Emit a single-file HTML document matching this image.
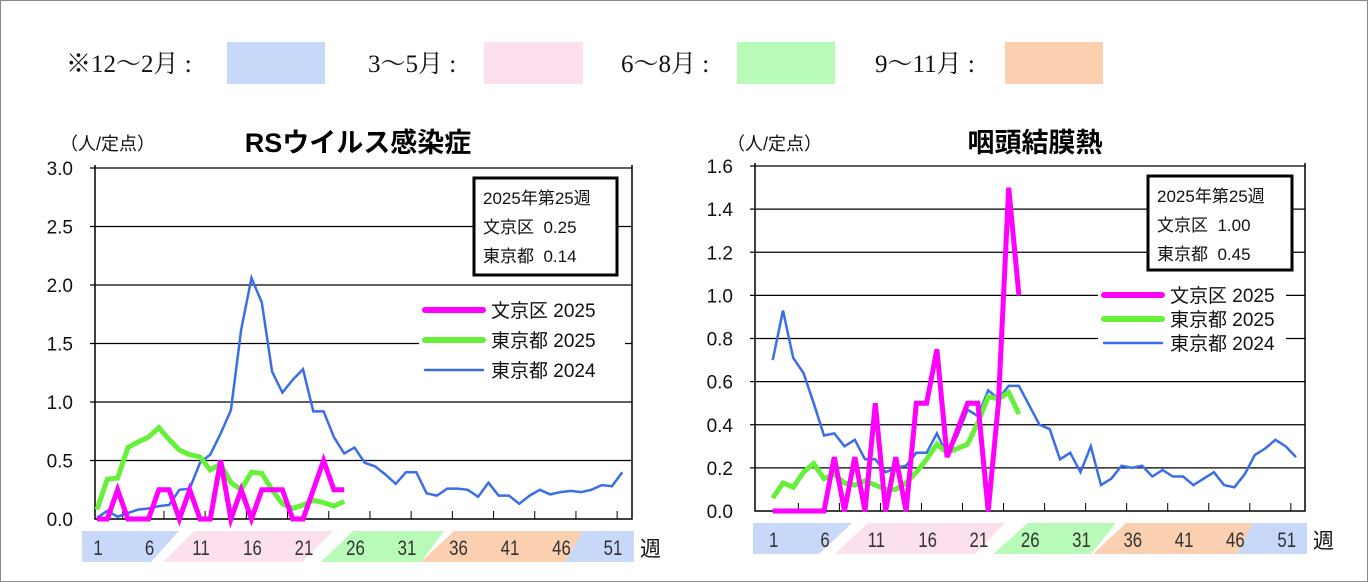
<!DOCTYPE html>
<html><head><meta charset="utf-8"><style>
html,body{margin:0;padding:0;background:#fff}
svg{display:block;font-family:"Liberation Sans","Noto Sans CJK JP",sans-serif}
</style></head><body>
<svg id="svg" width="1368" height="582" xmlns="http://www.w3.org/2000/svg">
<rect x="0.5" y="0.5" width="1367" height="581" fill="#fff" stroke="#888"/>
<g font-family="Liberation Serif,Noto Serif CJK SC,serif" font-size="25" fill="#111">
<text x="66" y="72">※12～2月 :</text>
<rect x="227" y="42" width="98" height="42" fill="#c8d8f8"/>
<text x="368" y="72">3～5月 :</text>
<rect x="484" y="42" width="99" height="42" fill="#fde0ee"/>
<text x="621" y="72">6～8月 :</text>
<rect x="737" y="42" width="98" height="42" fill="#b8fbb8"/>
<text x="875" y="72">9～11月 :</text>
<rect x="1005" y="42" width="98" height="42" fill="#fbd0b0"/>
</g>
<g id="left"></g>
<g id="right"></g>
</svg>
<script>
const weekLabels=[1,6,11,16,21,26,31,36,41,46,51];
const rsvYTicks=[0,0.5,1.0,1.5,2.0,2.5,3.0];
const rsvBunkyo2025=[0,0,0.25,0,0,0,0.25,0.25,0,0.25,0,0,0.5,0,0.25,0,0.25,0.25,0.25,0,0,0.25,0.5,0.25,0.25];
const rsvTokyo2025=[0.08,0.34,0.35,0.61,0.66,0.70,0.78,0.68,0.59,0.55,0.53,0.42,0.47,0.31,0.25,0.40,0.39,0.25,0.13,0.09,0.12,0.16,0.14,0.11,0.15];
const rsvTokyo2024=[0.01,0.07,0.02,0.05,0.08,0.09,0.11,0.12,0.25,0.26,0.48,0.55,0.73,0.93,1.62,2.06,1.85,1.26,1.08,1.19,1.28,0.92,0.92,0.70,0.56,0.61,0.48,0.45,0.38,0.30,0.40,0.40,0.22,0.20,0.26,0.26,0.25,0.19,0.31,0.20,0.20,0.13,0.20,0.25,0.21,0.23,0.24,0.23,0.25,0.29,0.28,0.40];
const pcfYTicks=[0,0.2,0.4,0.6,0.8,1.0,1.2,1.4,1.6];
const pcfBunkyo2025=[0,0,0,0,0,0,0.25,0,0.25,0,0.5,0,0.25,0,0.5,0.5,0.75,0.25,0.375,0.5,0.5,0,0.5,1.5,1.0];
const pcfTokyo2025=[0.06,0.13,0.11,0.18,0.22,0.15,0.17,0.13,0.12,0.14,0.12,0.10,0.10,0.13,0.18,0.24,0.31,0.27,0.29,0.31,0.41,0.53,0.52,0.55,0.45];
const pcfTokyo2024=[0.70,0.93,0.71,0.64,0.50,0.35,0.36,0.30,0.33,0.24,0.24,0.18,0.20,0.21,0.27,0.27,0.36,0.26,0.35,0.47,0.44,0.56,0.52,0.58,0.58,0.49,0.40,0.38,0.24,0.27,0.18,0.30,0.12,0.15,0.21,0.20,0.21,0.16,0.19,0.16,0.16,0.12,0.15,0.18,0.12,0.11,0.17,0.26,0.29,0.33,0.30,0.25];
const NS="http://www.w3.org/2000/svg";
function mk(p,t,a,txt){const e=document.createElementNS(NS,t);for(const k in a)e.setAttribute(k,a[k]);if(txt!==undefined)e.textContent=txt;p.appendChild(e);return e;}
function chart(g,c){
 const X=w=>c.x1+(w-1)*c.dx, Y=v=>c.y0-(v/c.ymax)*(c.y0-c.ytop);
 const t1=mk(g,'text',{x:c.unitX,y:150,'font-size':18,fill:'#111'},'（人/定点）');
 
 
 const t2=mk(g,'text',{x:c.titleX,y:152,'font-size':27,'font-weight':'bold','text-anchor':'middle',fill:'#000'},c.title);
 
 
 c.yticks.forEach(v=>{
  if(v>0){const l=mk(g,'line',{x1:c.left-5,x2:c.right,y1:Y(v),y2:Y(v),stroke:'#000','stroke-width':1.2});
  
  }
  const t=mk(g,'text',{x:c.left-22,y:Y(v)+7,'font-size':19,'text-anchor':'end',fill:'#111'},v.toFixed(1));
  
  
 });
 const ax=mk(g,'path',{d:`M${c.left},${c.ytop-3}V${c.y0}H${c.right}V${c.ytop-3}`,fill:'none',stroke:'#000','stroke-width':1.5});
 
 
 for(let w=1;w<=52;w+=4){const tk=mk(g,'line',{x1:X(w)+c.dx*2.5,x2:X(w)+c.dx*2.5,y1:c.y0,y2:c.y0-8,stroke:'#000'});
  
  }
 const by=c.y0+12,bh=31;
 c.bands.forEach(b=>{const p=mk(g,'polygon',{points:`${b[0]},${by} ${b[1]},${by} ${b[3]},${by+bh} ${b[2]},${by+bh}`,fill:b[4]});
  
  });
 weekLabels.forEach(w=>{const t=mk(g,'text',{x:X(w)+1,y:by+24,'font-size':21,'text-anchor':'middle',fill:'#333',transform:`translate(${X(w)+1},0) scale(0.8,1) translate(${-(X(w)+1)},0)`},String(w));
  
  });
 const wk=mk(g,'text',{x:c.right+8,y:by+25,'font-size':21,fill:'#111'},'週');
 
 
 const series=[[c.s2024,'#3a6ee8',2.5,'line-tokyo-2024'],[c.s25t,'#66f03a',5,'line-tokyo-2025'],[c.s25b,'#ff00ff',5,'line-bunkyo-2025']];
 series.forEach(s=>{const d=s[0].map((v,i)=>(i?'L':'M')+X(i+1).toFixed(1)+','+Y(v).toFixed(1)).join('');
  const p=mk(g,'path',{d,fill:'none',stroke:s[1],'stroke-width':s[2],'stroke-linejoin':'miter'});
  
  });
 const ib=c.info;
 const r=mk(g,'rect',{x:ib[0],y:ib[1],width:ib[2],height:ib[3],fill:'#fff',stroke:'#000','stroke-width':3});
 
 
 c.infoText.forEach((s,i)=>{const t=mk(g,'text',{x:ib[0]+9,y:ib[1]+26+i*29,'font-size':17,fill:'#111','xml:space':'preserve',style:'white-space:pre'},s);
  
  });
 const lg=c.legend;
 [['文京区 2025','#ff00ff',6],['東京都 2025','#66f03a',6],['東京都 2024','#3a6ee8',2.5]].forEach((e,i)=>{
  const y=lg[1]+i*lg[2];
  const bg=mk(g,'rect',{x:lg[0]-6,y:y-13,width:lg[3],height:26,fill:'#fff'});
  
  
  const l=mk(g,'line',{x1:lg[0],x2:lg[0]+58,y1:y,y2:y,stroke:e[1],'stroke-width':e[2],'stroke-linecap':'round'});
  
  
  const t=mk(g,'text',{x:lg[0]+66,y:y+7,'font-size':19,fill:'#111'},e[0]);
  
  
 });
}
const B='#c8d8f8',P='#fde0ee',G='#b8fbb8',O='#fbd0b0';
chart(document.getElementById('left'),{x1:97,dx:10.3,left:95,right:632,y0:519,ytop:168,ymax:3,yticks:rsvYTicks,
 title:'RSウイルス感染症',titleX:358,unitX:60,s25b:rsvBunkyo2025,s25t:rsvTokyo2025,s2024:rsvTokyo2024,
 bands:[[82,179,82,151,B],[194,333,163,302,P],[353,444,321,421,G],[454,583,421,565,O],[583,634,565,634,B]],
 info:[474,178,143,97],infoText:['2025年第25週','文京区  0.25','東京都  0.14'],legend:[425,310,30,206]});
chart(document.getElementById('right'),{x1:772.7,dx:10.26,left:755,right:1305,y0:511,ytop:166,ymax:1.6,yticks:pcfYTicks,
 title:'咽頭結膜熱',titleX:1035,unitX:727,s25b:pcfBunkyo2025,s25t:pcfTokyo2025,s2024:pcfTokyo2024,
 bands:[[753,852,753,819,B],[868,1005,835,975,P],[1028,1116,993,1091,G],[1126,1253,1093,1237,O],[1253,1307,1237,1307,B]],
 info:[1148,176,144,94],infoText:['2025年第25週','文京区  1.00','東京都  0.45'],legend:[1104,295,24,188]});
</script>
</body></html>
